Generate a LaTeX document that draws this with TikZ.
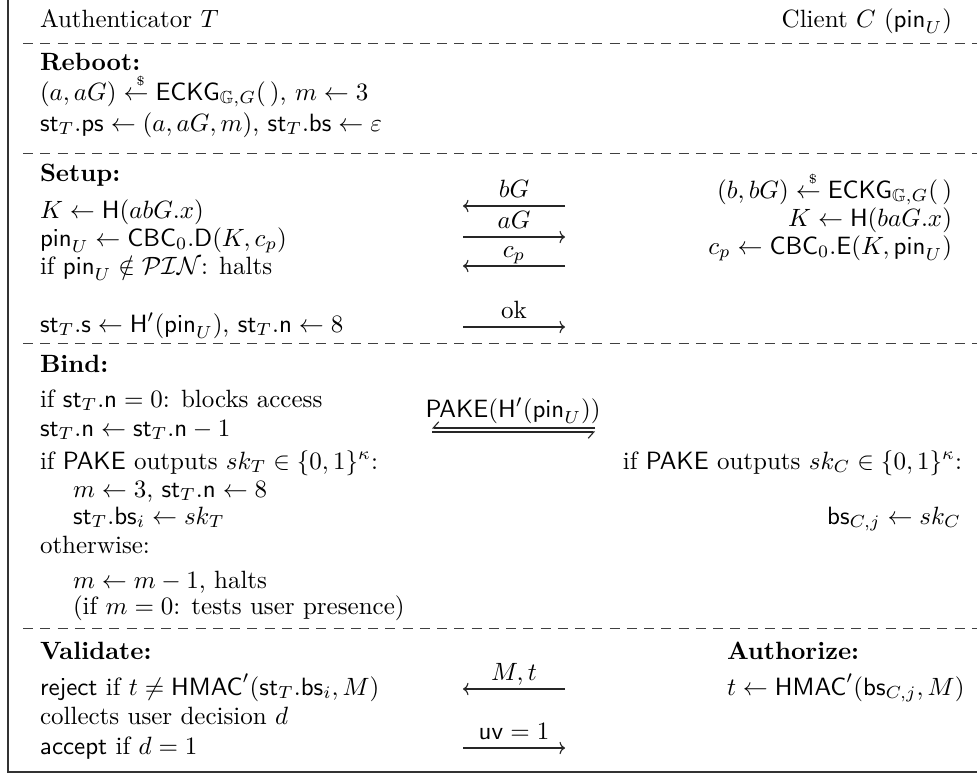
\documentclass[tikz,border=0pt]{standalone}
\usepackage{amsmath,amssymb}
\usetikzlibrary{arrows.meta}
\newcommand{\smpl}{\mathrel{\overset{\mkern8mu\scriptscriptstyle\$}{\leftarrow}}}
\tikzset{
  lt/.style={anchor=base west, inner sep=0pt, outer sep=0pt},
  rt/.style={anchor=base east, inner sep=0pt, outer sep=0pt},
  ct/.style={anchor=base, inner sep=0pt, outer sep=0pt},
  sepline/.style={draw=black!75, line width=0.4pt, dash pattern=on 4pt off 2.9pt},
  frameline/.style={draw=black!80, line width=0.6pt},
  msgarrow/.style={draw=black!85, line width=0.45pt, -{To[length=2.2pt,width=5pt]}},
  harpa/.style={draw=black!85, line width=0.45pt, -{Straight Barb[harpoon,swap,length=2.2pt,width=5pt]}},
}
\begin{document}
\begin{tikzpicture}[x=0.4pt, y={(0pt,-0.4pt)}]
\useasboundingbox (0,0) rectangle (977,775);
% frame
\coordinate (ftop) at (8,0);
\coordinate (fcorner) at (8,772);
\coordinate (fright) at (977,772);
\draw[frameline] (ftop) -- (fcorner) -- (fright);

% header
\node[lt] (authT) at (40,27) {Authenticator $T$};
\node[rt] (clientC) at (952,27) {Client $C$ ($\mathsf{pin}_U$)};
\coordinate (d1a) at (23,43); \coordinate (d1b) at (977,43);
\draw[sepline] (d1a) -- (d1b);

% Reboot
\node[lt] (rbH) at (40,70) {\textbf{Reboot:}};
\node[lt] (rb1) at (40,100) {$(a,aG)\smpl\mathsf{ECKG}_{\mathbb{G},G}(\,)$, $m\leftarrow 3$};
\node[lt] (rb2) at (40,131) {$\mathsf{st}_T.\mathsf{ps}\leftarrow(a,aG,m)$, $\mathsf{st}_T.\mathsf{bs}\leftarrow\varepsilon$};
\coordinate (d2a) at (23,153); \coordinate (d2b) at (977,153);
\draw[sepline] (d2a) -- (d2b);

% Setup
\node[lt] (suH) at (40,181) {\textbf{Setup:}};
\node[lt] (su1) at (40,218) {$K\leftarrow\mathsf{H}(abG.x)$};
\node[lt] (su2) at (40,246) {$\mathsf{pin}_U\leftarrow\mathsf{CBC}_0.\mathsf{D}(K,c_p)$};
\node[lt] (su3) at (40,274) {if $\mathsf{pin}_U\notin\mathcal{PIN}$: halts};
\node[lt] (su4) at (40,332) {$\mathsf{st}_T.\mathsf{s}\leftarrow\mathsf{H}'(\mathsf{pin}_U)$, $\mathsf{st}_T.\mathsf{n}\leftarrow 8$};
\node[rt] (sc1) at (952,198) {$(b,bG)\smpl\mathsf{ECKG}_{\mathbb{G},G}(\,)$};
\node[rt] (sc2) at (952,226) {$K\leftarrow\mathsf{H}(baG.x)$};
\node[rt] (sc3) at (952,254) {$c_p\leftarrow\mathsf{CBC}_0.\mathsf{E}(K,\mathsf{pin}_U)$};
% setup messages
\coordinate (m1r) at (565,206); \coordinate (m1l) at (463,206);
\draw[msgarrow] (m1r) -- (m1l);
\node[ct] (m1t) at (514,197) {$bG$};
\coordinate (m2l) at (463,237); \coordinate (m2r) at (565,237);
\draw[msgarrow] (m2l) -- (m2r);
\node[ct] (m2t) at (514,228) {$aG$};
\coordinate (m3r) at (565,266); \coordinate (m3l) at (463,266);
\draw[msgarrow] (m3r) -- (m3l);
\node[ct] (m3t) at (514,257) {$c_p$};
\coordinate (m4l) at (463,327); \coordinate (m4r) at (565,327);
\draw[msgarrow] (m4l) -- (m4r);
\node[ct] (m4t) at (514,318) {ok};
\coordinate (d3a) at (23,343); \coordinate (d3b) at (977,343);
\draw[sepline] (d3a) -- (d3b);

% Bind
\node[lt] (biH) at (40,372) {\textbf{Bind:}};
\node[lt] (bi1) at (40,407) {if $\mathsf{st}_T.\mathsf{n}=0$: blocks access};
\node[lt] (bi2) at (40,436) {$\mathsf{st}_T.\mathsf{n}\leftarrow\mathsf{st}_T.\mathsf{n}-1$};
\node[lt] (bi3) at (40,469) {if $\mathsf{PAKE}$ outputs $sk_T\in\{0,1\}^\kappa$:};
\node[lt] (bi4) at (73,497) {$m\leftarrow 3$, $\mathsf{st}_T.\mathsf{n}\leftarrow 8$};
\node[lt] (bi5) at (73,524) {$\mathsf{st}_T.\mathsf{bs}_i\leftarrow sk_T$};
\node[lt] (bi6) at (40,553) {otherwise:};
\node[lt] (bi7) at (73,588) {$m\leftarrow m-1$, halts};
\node[lt] (bi8) at (73,614) {(if $m=0$: tests user presence)};
\node[rt] (bc1) at (962,469) {if $\mathsf{PAKE}$ outputs $sk_C\in\{0,1\}^\kappa$:};
\node[rt] (bc2) at (961,524) {$\mathsf{bs}_{C,j}\leftarrow sk_C$};
\node[ct] (pk) at (513,417) {$\mathsf{PAKE}(\mathsf{H}'(\mathsf{pin}_U))$};
\coordinate (pkr1) at (595,428); \coordinate (pkl1) at (432,428);
\coordinate (pkl2) at (432,432); \coordinate (pkr2) at (595,432);
\draw[harpa] (pkr1) -- (pkl1);
\draw[harpa] (pkl2) -- (pkr2);
\coordinate (d4a) at (23,628); \coordinate (d4b) at (977,628);
\draw[sepline] (d4a) -- (d4b);

% Validate / Authorize
\node[lt] (vaH) at (40,659) {\textbf{Validate:}};
\node[lt] (va1) at (40,695) {$\mathsf{reject}$ if $t\neq\mathsf{HMAC}'(\mathsf{st}_T.\mathsf{bs}_i,M)$};
\node[lt] (va2) at (40,724) {collects user decision $d$};
\node[lt] (va3) at (40,754) {$\mathsf{accept}$ if $d=1$};
\node[lt] (auH) at (727,659) {\textbf{Authorize:}};
\node[lt] (au1) at (727,695) {$t\leftarrow\mathsf{HMAC}'(\mathsf{bs}_{C,j},M)$};
\coordinate (m5r) at (565,689); \coordinate (m5l) at (463,689);
\draw[msgarrow] (m5r) -- (m5l);
\node[ct] (m5t) at (514,680) {$M,t$};
\coordinate (m6l) at (463,748); \coordinate (m6r) at (565,748);
\draw[msgarrow] (m6l) -- (m6r);
\node[ct] (m6t) at (514,739) {$\mathsf{uv}=1$};
\end{tikzpicture}
\end{document}
